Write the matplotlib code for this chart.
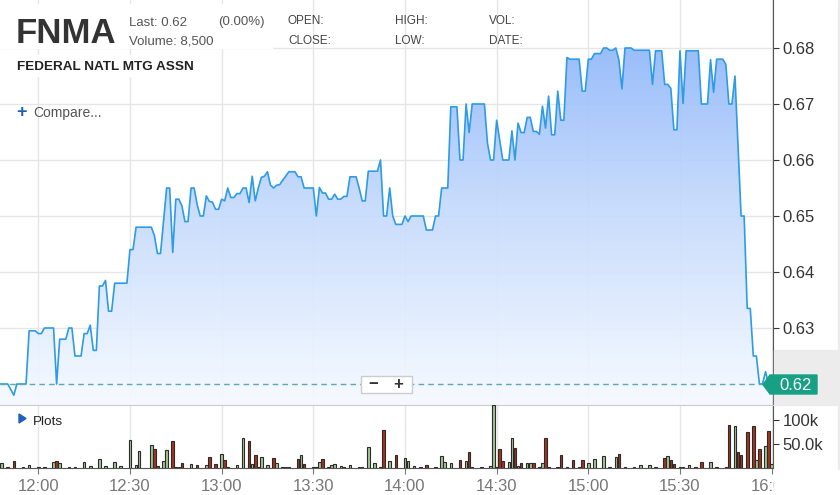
import matplotlib
matplotlib.use("Agg")
import matplotlib.pyplot as plt
from matplotlib.patches import Rectangle, Polygon
from matplotlib.colors import LinearSegmentedColormap
import numpy as np

plt.rcParams['font.family'] = ['Liberation Sans', 'DejaVu Sans']

W, H = 840, 495

# minutes after 12:00 and last trade price
price_t = [-13, -10, -8, -7, -4, -3, -1, 0, 1, 2,
           5, 6, 7, 9, 10, 11, 12, 14, 15, 16,
           17, 18, 19, 20, 21, 22, 23, 24, 25, 29,
           30, 31, 32, 37, 38, 39, 40, 42, 43, 44,
           45, 46, 47, 48, 49, 50, 51, 52, 53, 54,
           55, 56, 57, 58, 59, 60, 61, 62, 63, 64,
           65, 66, 67, 68, 69, 70, 71, 72, 73, 74,
           75, 76, 77, 78, 79, 80, 82, 84, 85, 86,
           87, 90, 91, 92, 93, 94, 95, 96, 97, 98,
           99, 100, 101, 102, 104, 105, 106, 107, 108, 111,
           112, 113, 114, 115, 116, 117, 119, 120, 121, 122,
           126, 127, 129, 130, 131, 132, 134, 135, 137, 138,
           139, 140, 141, 142, 146, 147, 148, 149, 150, 151,
           152, 154, 155, 156, 157, 158, 159, 160, 161, 162,
           163, 164, 165, 166, 167, 168, 169, 170, 171, 172,
           173, 174, 177, 178, 179, 180, 181, 182, 184, 185,
           186, 187, 188, 189, 190, 191, 192, 194, 195, 200,
           201, 202, 204, 205, 206, 207, 208, 209, 210, 211,
           212, 216, 217, 219, 220, 221, 222, 224, 225, 226,
           227, 228, 230, 231, 232, 233, 234, 235, 236, 237,
           238, 239, 240]
price_v = [.620, .620, .618, .620, .620, .6295, .6295, .629, .629, .630,
           .630, .620, .628, .628, .630, .630, .625, .625, .629, .629,
           .6305, .626, .626, .6375, .6375, .6385, .633, .633, .638, .638,
           .644, .644, .648, .648, .6465, .6433, .6433, .655, .655, .6435,
           .653, .653, .6518, .649, .649, .655, .655, .652, .650, .650,
           .6536, .6526, .6525, .6512, .6512, .653, .6527, .655, .6533, .6533,
           .654, .654, .655, .655, .6524, .6571, .6527, .655, .6569, .6571,
           .6579, .6555, .655, .6555, .6556, .6564, .6579, .6579, .657, .657,
           .655, .655, .650, .6551, .6541, .6541, .653, .653, .6539, .653,
           .653, .6535, .6535, .657, .657, .655, .6527, .6527, .658, .658,
           .660, .650, .650, .655, .650, .6485, .6485, .650, .649, .650,
           .650, .6475, .6475, .650, .650, .655, .655, .6695, .6695, .660,
           .660, .670, .6649, .670, .670, .663, .660, .660, .6671, .6636,
           .660, .660, .6652, .660, .6666, .6649, .6649, .6676, .6676, .6651,
           .6651, .6646, .6696, .6657, .6714, .6645, .6645, .6723, .6671, .6671,
           .6783, .678, .678, .6723, .6723, .678, .678, .679, .679, .680,
           .680, .6796, .6796, .680, .6779, .6727, .680, .680, .6796, .6796,
           .6735, .6795, .6795, .6735, .6735, .6728, .6654, .6654, .6795, .6701,
           .6795, .6795, .670, .670, .6779, .6721, .678, .678, .6771, .670,
           .670, .675, .650, .650, .6335, .6335, .625, .625, .620, .620,
           .6222, .620, .620]

# volume per minute (thousands), 1 = up bar, 0 = down bar
vol_t = [-12, -10, -8, -5, -3, 0, 2, 5, 6, 7,
         10, 12, 15, 17, 20, 22, 25, 27, 30, 32,
         33, 37, 38, 39, 41, 42, 44, 45, 46, 47,
         50, 52, 55, 56, 58, 60, 61, 62, 65, 67,
         69, 70, 71, 72, 73, 75, 77, 78, 80, 81,
         82, 85, 86, 87, 90, 91, 92, 93, 95, 96,
         97, 99, 100, 102, 105, 106, 108, 110, 112, 113,
         115, 117, 120, 121, 123, 125, 127, 130, 132, 133,
         135, 138, 140, 141, 142, 145, 148, 149, 150, 151,
         152, 154, 155, 156, 157, 158, 160, 161, 162, 164,
         165, 166, 167, 170, 171, 173, 175, 177, 178, 180,
         182, 185, 187, 189, 190, 192, 195, 197, 200, 202,
         205, 206, 207, 208, 210, 211, 213, 215, 217, 220,
         222, 225, 226, 228, 229, 230, 232, 234, 235, 236,
         238, 239, 240]
vol_k = [10, 3, 15, 2, 6, 3, 3, 13, 15, 10,
         3, 3, 13, 5, 19, 5, 13, 5, 59, 7,
         36, 48, 40, 5, 15, 38, 57, 3, 3, 10,
         8, 6, 6, 23, 8, 30, 17, 3, 6, 63,
         57, 8, 28, 3, 23, 7, 21, 10, 3, 3,
         3, 19, 27, 8, 3, 3, 13, 19, 3, 6,
         8, 5, 3, 6, 3, 3, 44, 10, 3, 80,
         15, 27, 21, 14, 5, 3, 6, 3, 25, 13,
         10, 16, 15, 34, 3, 3, 5, 131, 3, 40,
         15, 13, 63, 42, 5, 10, 10, 10, 10, 2,
         10, 63, 3, 3, 27, 3, 16, 3, 16, 10,
         19, 25, 3, 23, 29, 3, 2, 6, 6, 3,
         21, 25, 17, 8, 3, 3, 6, 3, 13, 13,
         3, 3, 91, 89, 33, 28, 76, 89, 17, 40,
         47, 78, 8]
vol_up = [1, 1, 0, 1, 1, 1, 1, 1, 0, 1,
          1, 1, 1, 1, 1, 1, 1, 1, 1, 1,
          1, 1, 0, 0, 1, 1, 0, 1, 1, 0,
          1, 0, 1, 0, 0, 1, 0, 1, 1, 1,
          0, 1, 0, 1, 1, 1, 0, 1, 1, 1,
          1, 0, 1, 0, 1, 1, 1, 0, 1, 1,
          1, 1, 1, 1, 0, 0, 1, 1, 1, 0,
          1, 0, 1, 1, 1, 1, 0, 1, 1, 1,
          1, 0, 1, 0, 1, 1, 1, 1, 1, 0,
          0, 1, 1, 0, 1, 0, 1, 1, 0, 1,
          1, 0, 1, 1, 0, 1, 0, 1, 0, 1,
          1, 1, 1, 1, 0, 1, 1, 1, 1, 1,
          0, 1, 0, 0, 1, 1, 1, 1, 0, 1,
          1, 1, 0, 1, 0, 0, 0, 0, 1, 0,
          1, 0, 1]

tick_t = [0, 30, 60, 90, 120, 150, 180, 210, 240]
tick_lab = ["12:00", "12:30", "13:00", "13:30", "14:00", "14:30", "15:00", "15:30", "16:00"]
price_ticks = [0.62, 0.63, 0.64, 0.65, 0.66, 0.67, 0.68]
vol_ticks = [50, 100]
vol_tick_lab = ["50.0k", "100k"]
last_price = 0.62


def fx(x):
    return x / W


def fy(y):
    return 1 - y / H


fig = plt.figure(figsize=(W / 100, H / 100), dpi=100)
fig.patch.set_facecolor('white')

x_lo, x_hi = -12.53, 240.44
ax = fig.add_axes([0, fy(405), 773 / W, 405 / H])
axv = fig.add_axes([0, fy(468), 773 / W, 63 / H])

# --- price panel ---
y_lo, y_hi = 0.61625, 0.68857
ax.set_xlim(x_lo, x_hi)
ax.set_ylim(y_lo, y_hi)

fill = ax.fill_between(price_t, price_v, y_lo, color='none', lw=0)
cmap = LinearSegmentedColormap.from_list('g', ['#f6faff', '#c3d9fc', '#82aef9'])
grad = np.linspace(1, 0, 256).reshape(-1, 1)
im = ax.imshow(grad, extent=[x_lo, x_hi, y_lo, y_hi], aspect='auto',
               cmap=cmap, alpha=0.92, zorder=2, origin='upper')
im.set_clip_path(fill.get_paths()[0], ax.transData)
ax.plot(price_t, price_v, color='#2d9be6', lw=1.2, zorder=3)
ax.axhline(last_price, color='#5aaab0', ls=(0, (4, 3)), lw=1, zorder=4)

# the last-price flag covers the 0.62 label
ax.set_yticks(price_ticks)
ax.set_yticklabels(["" if p == last_price else f"{p:.2f}" for p in price_ticks])
ax.set_xticks(tick_t)
ax.yaxis.tick_right()
ax.tick_params(axis='y', length=4, pad=3, labelsize=12, colors='#333333')
ax.tick_params(axis='x', length=0, labelbottom=False)
ax.grid(color='#e6e6e6', lw=1)
ax.set_axisbelow(True)
for s in ['left', 'top']:
    ax.spines[s].set_visible(False)
ax.spines['right'].set_color('#555555')
ax.spines['bottom'].set_color('#cccccc')

# --- volume panel ---
axv.set_xlim(x_lo, x_hi)
axv.set_ylim(0, 132)
colors = ['#a3c795' if u else '#a8321c' for u in vol_up]
axv.bar(vol_t, vol_k, width=0.85, color=colors, edgecolor='#2b2b2b', lw=0.8, zorder=3)
axv.set_xticks(tick_t)
axv.set_xticklabels(tick_lab)
axv.set_yticks(vol_ticks)
axv.set_yticklabels(vol_tick_lab)
axv.yaxis.tick_right()
axv.tick_params(axis='y', length=4, pad=3, labelsize=12, colors='#333333')
axv.tick_params(axis='x', length=4, pad=4, labelsize=12, colors='#777777')
axv.grid(axis='x', color='#e6e6e6', lw=1)
axv.set_axisbelow(True)
axv.spines['left'].set_visible(False)
axv.spines['top'].set_color('#cccccc')
axv.spines['right'].set_color('#555555')
axv.spines['bottom'].set_color('#555555')

# gray strip at the right and mask for the clipped last time label
fig.patches.append(Rectangle((fx(774), fy(405)), fx(840) - fx(774), fy(350) - fy(405),
                             transform=fig.transFigure, color='#ececec', zorder=1))
fig.patches.append(Rectangle((fx(838), fy(495)), fx(2), 1,
                             transform=fig.transFigure, color='#ececec', zorder=1))
fig.patches.append(Rectangle((fx(774), 0), fx(66), fy(470),
                             transform=fig.transFigure, color='white', zorder=5))

# last price flag
flag = [(763, 384.5), (770, 375), (817, 375), (817, 394), (770, 394)]
fig.patches.append(Polygon([(fx(a), fy(b)) for a, b in flag], closed=True,
                           transform=fig.transFigure, color='#17a085', zorder=6))
fig.text(fx(796), fy(385), f"{last_price:.2f}", color='white', size=12,
         ha='center', va='center', zorder=7)

# header boxes
fig.patches.append(Rectangle((0, fy(48)), fx(272), fy(4) - fy(48),
                             transform=fig.transFigure, color='white', zorder=2))
fig.patches.append(Rectangle((fx(12), fy(76)), fx(190), fy(55) - fy(76),
                             transform=fig.transFigure, color='white', zorder=2))
fig.text(fx(16), fy(43), "FNMA", size=25, weight='bold', color='#333333', zorder=3)
fig.text(fx(129), fy(25.5), "Last: 0.62", size=9.5, color='#555555', zorder=3)
fig.text(fx(218), fy(25.5), "(0.00%)", size=9.5, color='#555555', zorder=3)
fig.text(fx(129), fy(44.5), "Volume: 8,500", size=9.5, color='#555555', zorder=3)
for xx, top, bot in [(288, "OPEN:", "CLOSE:"), (395, "HIGH:", "LOW:"), (489, "VOL:", "DATE:")]:
    fig.text(fx(xx), fy(23.5), top, size=8.5, color='#444444', zorder=3)
    fig.text(fx(xx), fy(43.5), bot, size=8.5, color='#444444', zorder=3)
fig.text(fx(17), fy(70), "FEDERAL NATL MTG ASSN", size=9.7, weight='bold', color='#222222', zorder=3)
fig.text(fx(16), fy(117), "+", size=13, weight='bold', color='#2060b0', zorder=3)
fig.text(fx(33), fy(117), "Compare...", size=10, color='#555555', zorder=3)

# plots toggle
fig.patches.append(Polygon([(fx(19), fy(414)), (fx(19), fy(423)), (fx(26), fy(418.5))],
                           closed=True, transform=fig.transFigure, color='#1f5fbf', zorder=3))
fig.text(fx(33), fy(425), "Plots", size=9.7, color='#222222', zorder=3)

# zoom buttons
fig.patches.append(Rectangle((fx(361), fy(393)), fx(51), fy(376) - fy(393),
                             transform=fig.transFigure, facecolor='white',
                             edgecolor='#cccccc', lw=1, zorder=3))
fig.text(fx(373), fy(385), "\u2212", size=12, weight='bold', color='#333333',
         ha='center', va='center', zorder=4)
fig.text(fx(398), fy(385), "+", size=12, weight='bold', color='#333333',
         ha='center', va='center', zorder=4)

fig.savefig("out.png", dpi=100)
